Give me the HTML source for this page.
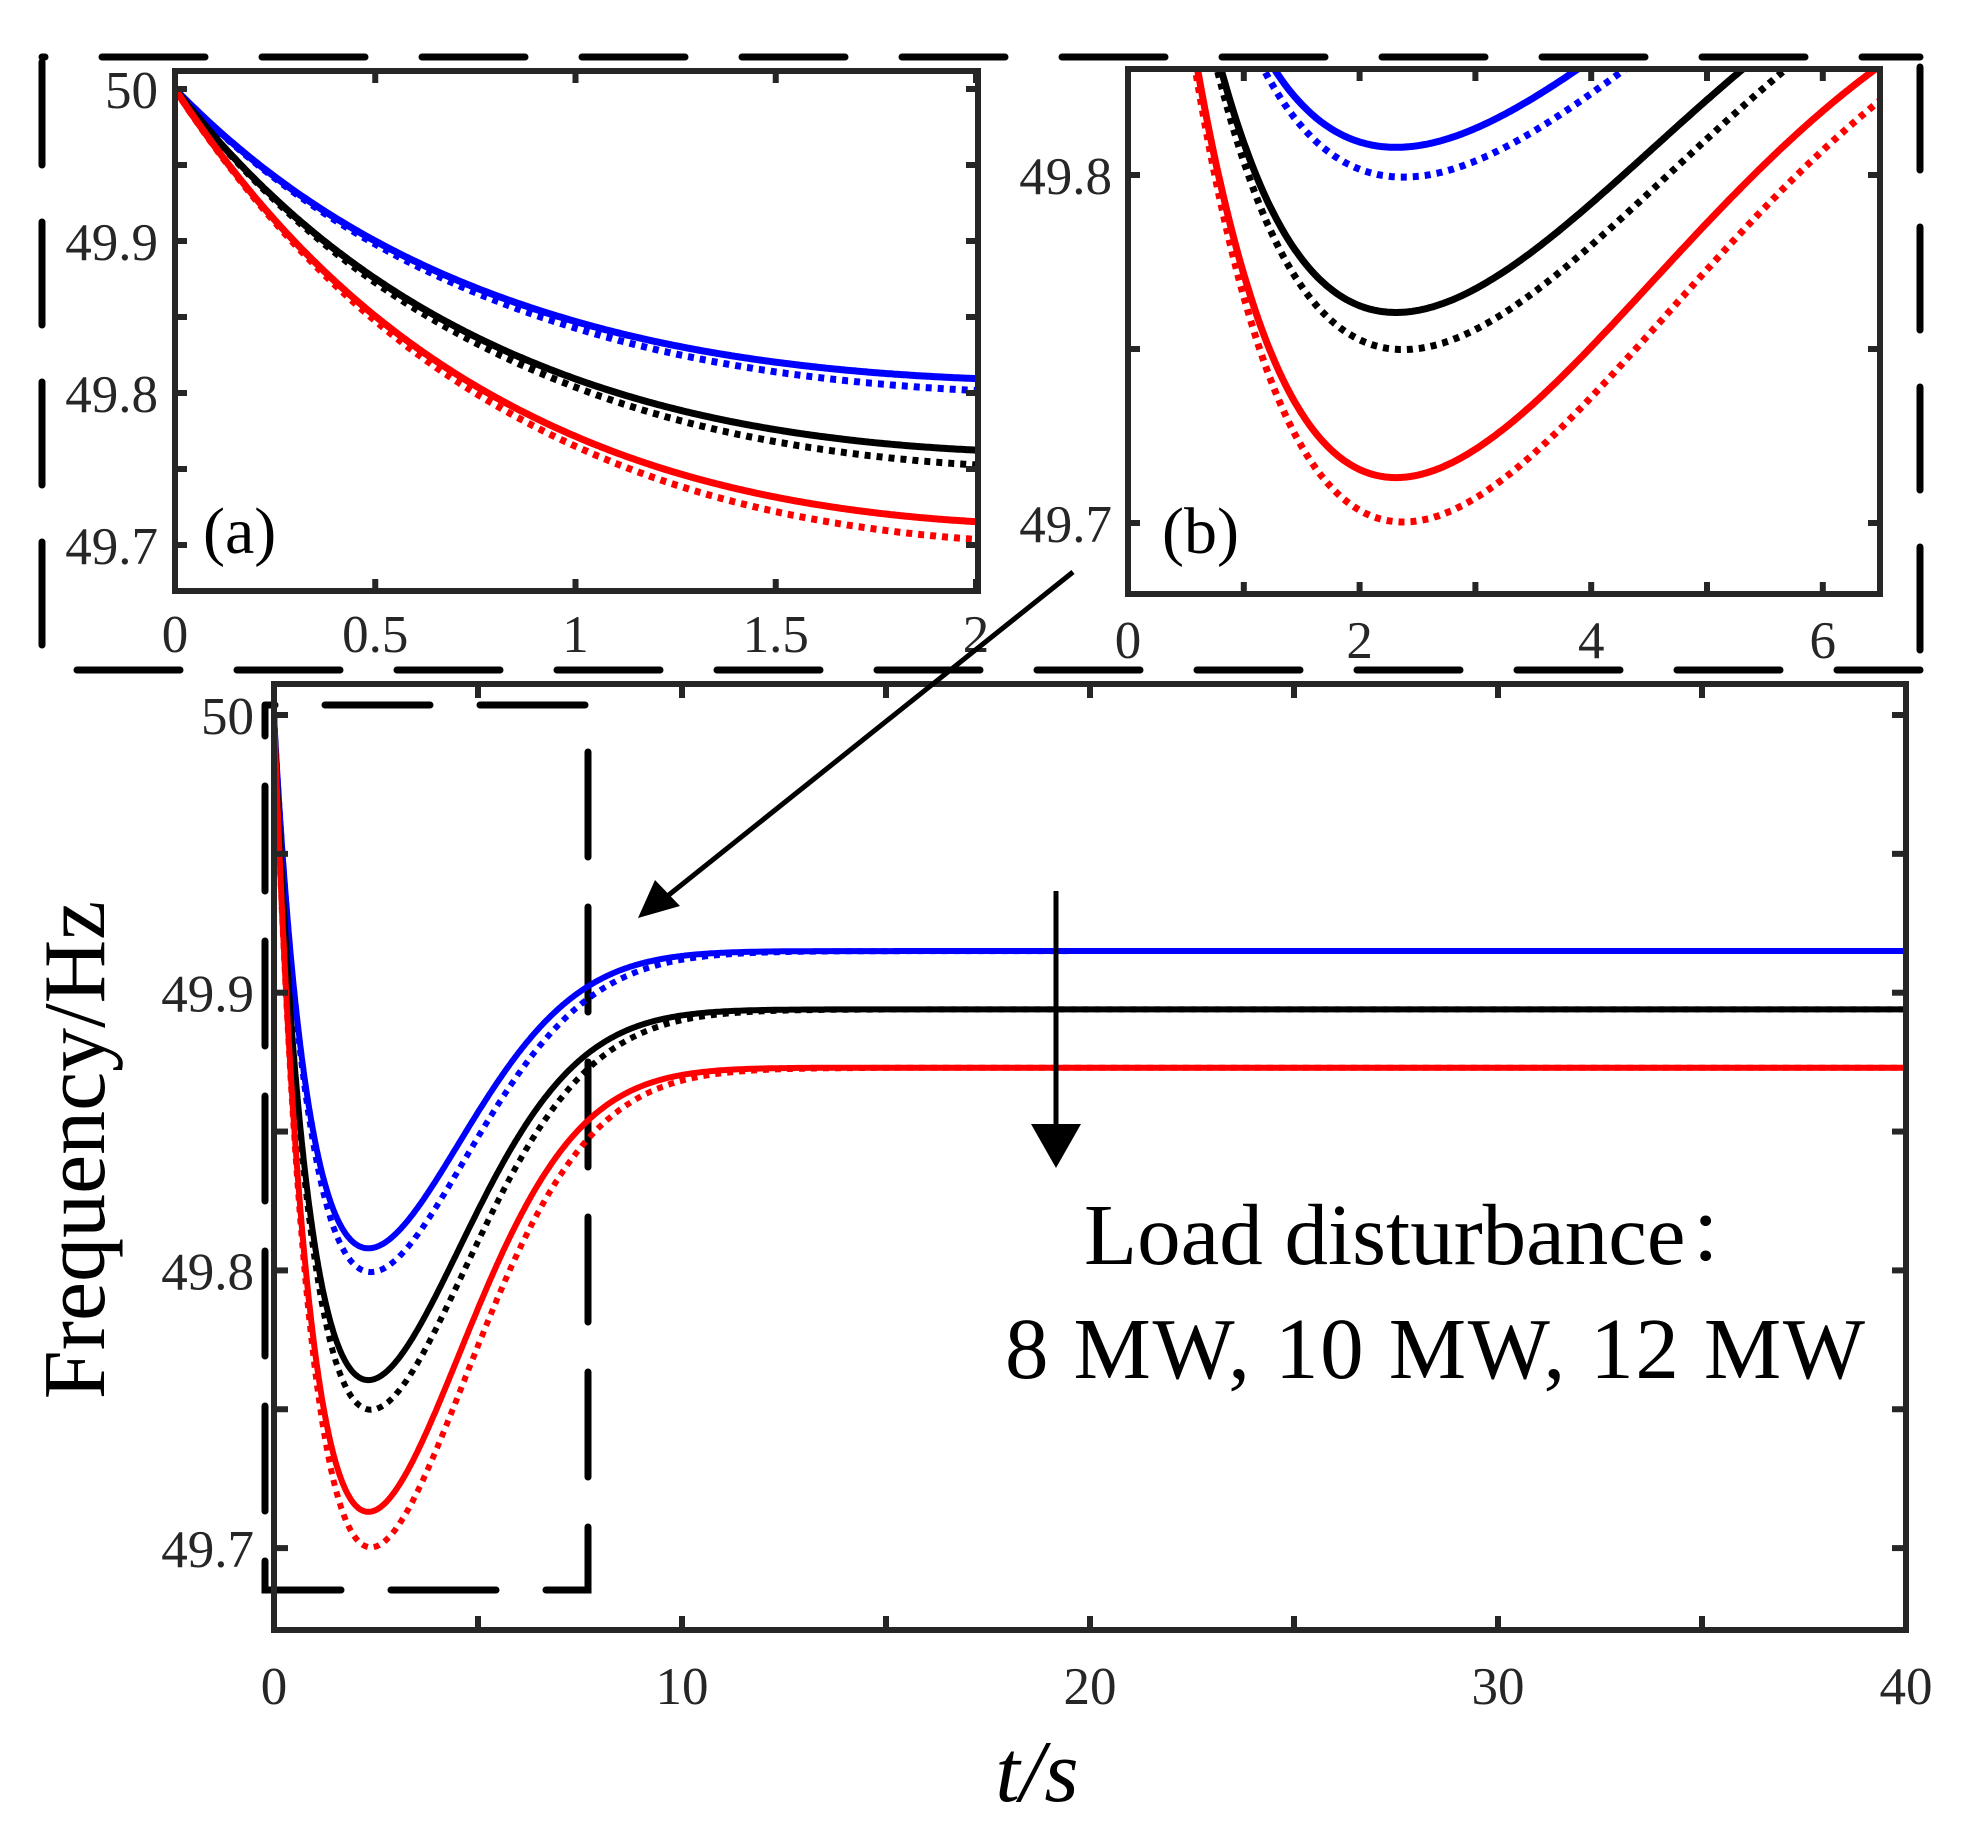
<!DOCTYPE html>
<html><head><meta charset="utf-8"><style>
html,body{margin:0;padding:0;background:#fff;}
svg{display:block;}
text{font-family:"Liberation Serif","Noto Serif CJK SC",serif;fill:#262626;}
</style></head><body>
<svg id="s" width="1972" height="1848" viewBox="0 0 1972 1848" xmlns="http://www.w3.org/2000/svg">
<defs>
<clipPath id="ca"><rect x="175" y="71" width="803" height="520"/></clipPath>
<clipPath id="cb"><rect x="1128" y="69" width="752" height="525"/></clipPath>
<clipPath id="cm"><rect x="274" y="684" width="1632" height="946"/></clipPath>
</defs>
<g id="dash" fill="none" stroke="#000" stroke-width="7" stroke-linecap="round">
<path d="M42,57 H1920" stroke-dasharray="103 57" stroke-dashoffset="-60"/>
<path d="M42,62 V670" stroke-dasharray="103 57"/>
<path d="M77,670 H1920" stroke-dasharray="103 57"/>
<path d="M1920,57 V670" stroke-dasharray="103 57" stroke-dashoffset="-10"/>
<path d="M265,705 H588 V1590 H265 V705" stroke-dasharray="105 50" stroke-dashoffset="-60"/>
</g>
<g id="plots"></g>
<g stroke="#000" stroke-width="5" fill="#000">
<line x1="1073" y1="572" x2="660" y2="902"/>
<polygon points="638,918 655,880 680,906" stroke="none"/>
<line x1="1056" y1="891" x2="1056" y2="1130"/>
<polygon points="1031,1124 1081,1124 1056,1168" stroke="none"/>
</g>
<text x="1084" y="1264" font-size="87" style="fill:#000">Load disturbance：</text>
<text x="1005" y="1378" font-size="87" textLength="860" style="fill:#000">8 MW, 10 MW, 12 MW</text>
<text x="1037" y="1801" font-size="88" font-style="italic" text-anchor="middle" style="fill:#000">t/s</text>
<text transform="translate(104,1150) rotate(-90)" font-size="88" text-anchor="middle" style="fill:#000">Frequency/Hz</text>
<text x="203" y="553" font-size="66" style="fill:#000">(a)</text>
<text x="1162" y="553" font-size="66" style="fill:#000">(b)</text>
</svg>
<script>
(function(){
function h(t){if(t<=0)return 0;
 var P=2.5*(1-Math.exp(-t/0.786));
 var x=t-1.0, Q=x>0?1.5*(1-Math.exp(-Math.pow(x/4.5,2.1))):0;
 return P-Q;}
function hd(x){return h(x/1.04)*(1+0.05*Math.exp(-Math.pow(x/7,2)));}
var S=[[0.085,'#0000ff'],[0.106,'#000000'],[0.127,'#ff0000']];
var P=[
 {x0:175,xs:(976-175)/2,y0:89,ys:1520,t1:2.003,clip:'ca',w:7},
 {x0:1128,xs:(1823-1128)/6,y0:175-0.2*3480,ys:3480,t1:6.5,clip:'cb',w:7},
 {x0:274,xs:40.8,y0:715,ys:2777,t1:40,clip:'cm',w:6}];
var out='';
P.forEach(function(p){
 S.forEach(function(c){
  [0,1].forEach(function(dot){
   var pts=[],N=p.t1>10?1200:500;
   for(var j=0;j<=N;j++){var tt=p.t1>10?Math.pow(j/N,1.6)*p.t1:p.t1*j/N;
    var v=c[0]*(dot?hd(tt):h(tt));
    pts.push((p.x0+tt*p.xs).toFixed(1)+','+(p.y0+v*p.ys).toFixed(1));}
   out+='<polyline clip-path="url(#'+p.clip+')" fill="none" stroke="'+c[1]+'" stroke-width="'+p.w+'" '+(dot?'stroke-dasharray="6 6"':'')+' points="'+pts.join(' ')+'"/>';
  });
 });
});
function box(x1,y1,x2,y2){return '<rect x="'+x1+'" y="'+y1+'" width="'+(x2-x1)+'" height="'+(y2-y1)+'" fill="none" stroke="#262626" stroke-width="6"/>';}
function tk(x1,y1,x2,y2){return '<line x1="'+x1+'" y1="'+y1+'" x2="'+x2+'" y2="'+y2+'" stroke="#262626" stroke-width="6"/>';}
function tx(x,y,s,anc,fs){return '<text x="'+x+'" y="'+y+'" font-size="'+fs+'" text-anchor="'+anc+'">'+s+'</text>';}
out+=box(175,71,978,591);
[0,0.5,1,1.5,2].forEach(function(v){var x=175+v*400.5;out+=tk(x,591,x,579)+tk(x,71,x,83)+tx(x,652,String(v),'middle',53);});
for(var k=0;k<=6;k++){var y=89+k*76;out+=tk(175,y,187,y)+tk(978,y,966,y);}
['50','49.9','49.8','49.7'].forEach(function(s,i){out+=tx(158,89+i*152+19,s,'end',53);});
out+=box(1128,69,1880,594);
for(k=0;k<=6;k++){var x=1128+k*115.8;out+=tk(x,594,x,582)+tk(x,69,x,81);}
[0,2,4,6].forEach(function(v){out+=tx(1128+v*115.8,658,String(v),'middle',53);});
[175,349,523].forEach(function(y){out+=tk(1128,y,1140,y)+tk(1880,y,1868,y);});
out+=tx(1112,194,'49.8','end',53)+tx(1112,542,'49.7','end',53);
out+=box(274,684,1906,1630);
for(k=0;k<=8;k++){var x=274+k*204;out+=tk(x,1630,x,1616)+tk(x,684,x,698);}
[0,10,20,30,40].forEach(function(v){out+=tx(274+v*40.8,1704,String(v),'middle',53);});
for(k=0;k<=6;k++){var y=715+k*138.85;out+=tk(274,y,288,y)+tk(1906,y,1892,y);}
['50','49.9','49.8','49.7'].forEach(function(s,i){out+=tx(254,715+i*277.7+19,s,'end',53);});
document.getElementById('plots').innerHTML=out;
})();
</script>
</body></html>
